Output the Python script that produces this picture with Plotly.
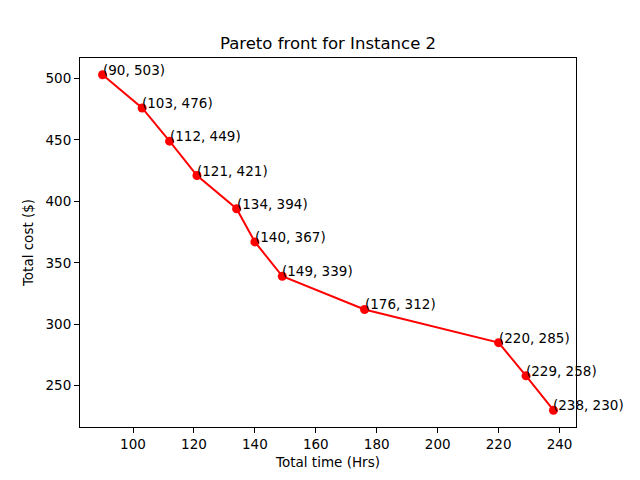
import plotly.graph_objects as go

total_time = [90, 103, 112, 121, 134, 140, 149, 176, 220, 229, 238]
total_cost = [503, 476, 449, 421, 394, 367, 339, 312, 285, 258, 230]
x_ticks = [100, 120, 140, 160, 180, 200, 220, 240]
y_ticks = [250, 300, 350, 400, 450, 500]

font_family = "DejaVu Sans"

# the page body has an 8px margin, so the paper is 8px smaller and offset
W, H = 632, 472

fig = go.Figure()
fig.add_trace(go.Scatter(
    x=total_time, y=total_cost, mode="lines+markers",
    line=dict(color="#ff0000", width=2),
    marker=dict(color="#ff0000", size=9),
    showlegend=False,
))

for t, c in zip(total_time, total_cost):
    fig.add_annotation(
        x=t, y=c, text=f"({t}, {c})", showarrow=False,
        xanchor="left", yanchor="bottom", xshift=-2, yshift=-5,
        font=dict(family=font_family, size=13.5, color="black"),
    )

xmin, xmax = min(total_time), max(total_time)
ymin, ymax = min(total_cost), max(total_cost)
xpad = (xmax - xmin) * 0.05
ypad = (ymax - ymin) * 0.05

axis_common = dict(
    showgrid=False, zeroline=False, showline=True, linecolor="black",
    linewidth=1, mirror=True, ticks="outside", ticklen=5, tickwidth=1,
    tickcolor="black", automargin=False,
    tickfont=dict(family=font_family, size=13.5, color="black"),
)

fig.update_layout(
    width=W, height=H,
    margin=dict(l=72, r=64, t=50, b=53),
    plot_bgcolor="white", paper_bgcolor="white",
    title=dict(text="Pareto front for Instance 2", x=320 / W, xanchor="center",
               y=1 - 35 / H, yanchor="middle",
               font=dict(family=font_family, size=16.5, color="black")),
    xaxis=dict(range=[xmin - xpad, xmax + xpad], tickvals=x_ticks,
               title=dict(text="Total time (Hrs)", standoff=6,
                          font=dict(family=font_family, size=13.5, color="black")),
               **axis_common),
    yaxis=dict(range=[ymin - ypad, ymax + ypad], tickvals=y_ticks,
               title=dict(text="Total cost ($)", standoff=8,
                          font=dict(family=font_family, size=13.5, color="black")),
               **axis_common),
)

fig.write_html("out.html")
